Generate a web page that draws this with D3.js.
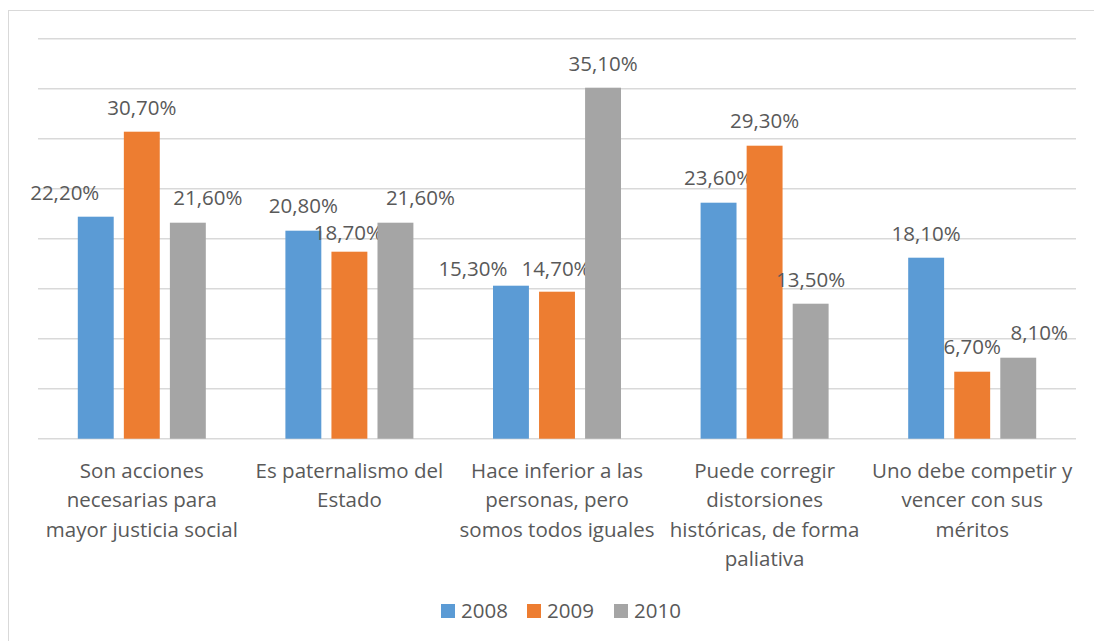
<!DOCTYPE html>
<html>
<head>
<meta charset="utf-8">
<script src="https://cdn.jsdelivr.net/npm/d3@7"></script>
<style>
  body { margin: 0; background: #fff; }
  text { font-family: "Open Sans", sans-serif; fill: #595959; }
</style>
</head>
<body>
<svg id="chart" width="1094" height="641"></svg>
<script>
const categories = [
  ['Son acciones', 'necesarias para', 'mayor justicia social'],
  ['Es paternalismo del', 'Estado'],
  ['Hace inferior a las', 'personas, pero', 'somos todos iguales'],
  ['Puede corregir', 'distorsiones', 'históricas, de forma', 'paliativa'],
  ['Uno debe competir y', 'vencer con sus', 'méritos'],
];
const years = ['2008', '2009', '2010'];
const v2008 = [22.2, 20.8, 15.3, 23.6, 18.1];
const v2009 = [30.7, 18.7, 14.7, 29.3, 6.7];
const v2010 = [21.6, 21.6, 35.1, 13.5, 8.1];
const colors = ['#5b9bd5', '#ed7d31', '#a5a5a5'];

// label nudges [dx, dy] per series, per category (Excel moved some labels)
const nudge = [
  [[-31, 0], [0, -1], [-38, 7], [0, -1], [0, 0]],
  [[0, 0], [-1, 5], [-1, 1], [0, -1], [0, -1]],
  [[20, -1], [25, -1], [0, 0], [0, 0], [21, -1]],
];

const series = [v2008, v2009, v2010];
const svg = d3.select('#chart');
const plot = { left: 38, right: 1076, top: 38.7, bottom: 438.7 };

// chart border
svg.append('rect')
  .attr('x', 8.5).attr('y', 10.5)
  .attr('width', 1100).attr('height', 700)
  .attr('fill', 'none').attr('stroke', '#d9d9d9').attr('stroke-width', 1);

const y = d3.scaleLinear().domain([0, 40]).range([plot.bottom, plot.top]);
const x0 = d3.scaleBand().domain(d3.range(categories.length))
  .range([plot.left, plot.right]).paddingInner(0.3834).paddingOuter(0.1917);
const x1 = d3.scaleBand().domain(d3.range(years.length))
  .range([0, x0.bandwidth()]).paddingInner(0.22);

// gridlines
svg.append('g')
  .selectAll('line')
  .data(y.ticks(8))
  .join('line')
  .attr('x1', plot.left).attr('x2', plot.right)
  .attr('y1', d => y(d)).attr('y2', d => y(d))
  .attr('stroke', '#d9d9d9').attr('stroke-width', 1.5);

const fmt = v => d3.format('.2f')(v).replace('.', ',') + '%';

series.forEach((vals, s) => {
  const g = svg.append('g');
  g.selectAll('rect')
    .data(vals)
    .join('rect')
    .attr('x', (d, i) => x0(i) + x1(s))
    .attr('y', d => y(d))
    .attr('width', x1.bandwidth())
    .attr('height', d => plot.bottom - y(d))
    .attr('fill', colors[s]);

  g.selectAll('text')
    .data(vals)
    .join('text')
    .attr('x', (d, i) => x0(i) + x1(s) + x1.bandwidth() / 2 + nudge[s][i][0])
    .attr('y', (d, i) => y(d) - 17 + nudge[s][i][1])
    .attr('text-anchor', 'middle')
    .style('font-size', '20.5px')
    .text(d => fmt(d));
});

// category labels
const xAxis = svg.append('g')
  .attr('transform', `translate(0,${plot.bottom})`)
  .call(d3.axisBottom(x0).tickSize(0).tickFormat(''));
xAxis.select('.domain').remove();
xAxis.selectAll('.tick').each(function (d) {
  const t = d3.select(this).append('text')
    .attr('text-anchor', 'middle')
    .style('font-size', '20.5px');
  categories[d].forEach((line, k) => {
    t.append('tspan').attr('x', 0).attr('y', 39 + k * 29.5).text(line);
  });
});

// legend
const legendX = [441, 527, 614];
const legend = svg.append('g');
years.forEach((yr, s) => {
  legend.append('rect')
    .attr('x', legendX[s]).attr('y', 604)
    .attr('width', 14).attr('height', 14)
    .attr('fill', colors[s]);
  legend.append('text')
    .attr('x', legendX[s] + 20).attr('y', 618)
    .style('font-size', '20.5px')
    .text(yr);
});
</script>
</body>
</html>
